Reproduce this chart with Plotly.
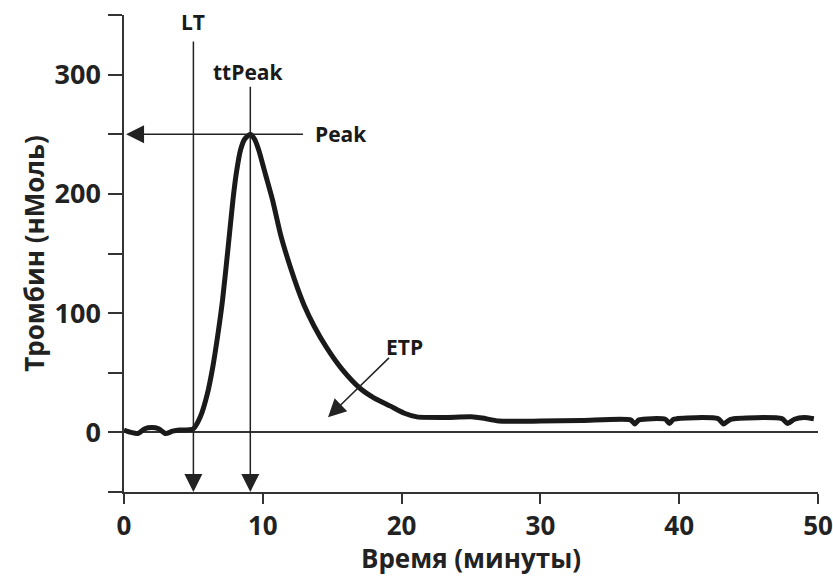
import plotly.graph_objects as go

# Thrombin generation curve
time_min = [0, 0.5, 1.0, 1.5, 2.0, 2.5, 3.0, 3.5, 4.0, 4.5, 5.0, 5.5, 6.0, 6.4, 6.8, 7.1,
            7.5, 7.85, 8.1, 8.4, 8.7, 9.1, 9.4, 9.7, 10.2, 10.7, 11.3, 12.0, 12.5, 13.0, 13.7,
            14.6, 15.7, 17.0, 18.0, 19.2, 20.2, 21.1, 23.0, 25.0, 25.8, 27.0, 30.0, 33.0,
            36.5, 36.8, 37.1, 39.0, 39.3, 39.6, 42.8, 43.2, 43.7, 47.4, 47.8, 48.3, 49.0, 49.7]
thrombin = [2, 0, -1, 3, 4, 3, -1, 1, 2, 2, 3, 13, 32, 55, 85, 111,
            155, 195, 218, 237, 246, 250, 246, 237, 216, 195, 165, 138, 121, 106, 89,
            71, 53, 37, 29, 22, 16, 13, 12.5, 13, 12, 9.5, 9.5, 10,
            10.5, 7, 10.5, 11, 7.5, 11, 11.5, 7, 11, 11.5, 7.5, 11, 12.5, 11.5]

x_ticks = [0, 10, 20, 30, 40, 50]
y_ticks = [-50, 0, 50, 100, 150, 200, 250, 300, 350]
y_ticktext = ["", "0", "", "100", "", "200", "", "300", ""]

lt_time = 5.0
ttpeak_time = 9.1
peak_value = 250

FONT = "Open Sans"
INK = "#1a1a1a"

fig = go.Figure()
fig.add_trace(go.Scatter(x=time_min, y=thrombin, mode="lines",
                         line=dict(color=INK, width=5, shape="spline", smoothing=0.6),
                         hoverinfo="skip", showlegend=False))

fig.update_layout(
    width=833, height=576,
    margin=dict(l=124, r=15, t=15, b=84, autoexpand=False),
    paper_bgcolor="white", plot_bgcolor="white",
    font=dict(family=FONT, color=INK),
    showlegend=False,
)
fig.update_xaxes(range=[0, 50], tickvals=x_ticks, ticks="outside", ticklen=10, tickwidth=1.5,
                 tickcolor="#333", showline=True, linecolor="#333", linewidth=1.5,
                 showgrid=False, zeroline=False, ticklabeloverflow="allow",
                 tickfont=dict(size=26, family=FONT, weight="bold", color="#222"),
                 title=dict(text="<b>Время (минуты)</b>", font=dict(size=26, family=FONT, color="#222"),
                            standoff=4))
fig.update_yaxes(range=[-50, 350], tickvals=y_ticks, ticktext=y_ticktext, ticks="outside",
                 ticklen=14, tickwidth=1.5, tickcolor="#333", showline=True, linecolor="#333",
                 linewidth=1.5, showgrid=False, zeroline=True, zerolinecolor="#333",
                 zerolinewidth=1.5, ticklabelstandoff=2,
                 tickfont=dict(size=27, family=FONT, weight="bold", color="#222"),
                 title=dict(text="<b>Тромбин (нМоль)</b>", font=dict(size=26, family=FONT, color="#222"),
                            standoff=2))

arrow = dict(showarrow=True, arrowhead=2, arrowsize=2.4, arrowwidth=1.5, arrowcolor="#222",
             axref="x", ayref="y", text="", standoff=0, startstandoff=0)
# LT and ttPeak vertical arrows
fig.add_annotation(x=lt_time, y=-50, ax=lt_time, ay=329, **arrow)
fig.add_annotation(x=ttpeak_time, y=-50, ax=ttpeak_time, ay=291, **arrow)
# Peak horizontal arrow
fig.add_annotation(x=0.15, y=peak_value, ax=13.0, ay=peak_value, **arrow)
# ETP arrow
fig.add_annotation(x=14.7, y=12.6, ax=19.2, ay=63.7, **arrow)

lab = dict(showarrow=False, font=dict(size=21, family=FONT, color=INK, weight="bold"))
fig.add_annotation(x=lt_time, y=344, text="LT", xanchor="center", **lab)
fig.add_annotation(x=9.0, y=302, text="ttPeak", xanchor="center", **lab)
fig.add_annotation(x=13.6, y=250, text="Peak", xanchor="left", **lab)
fig.add_annotation(x=20.2, y=72, text="ETP", xanchor="center", **lab)

fig.write_html("out.html")
